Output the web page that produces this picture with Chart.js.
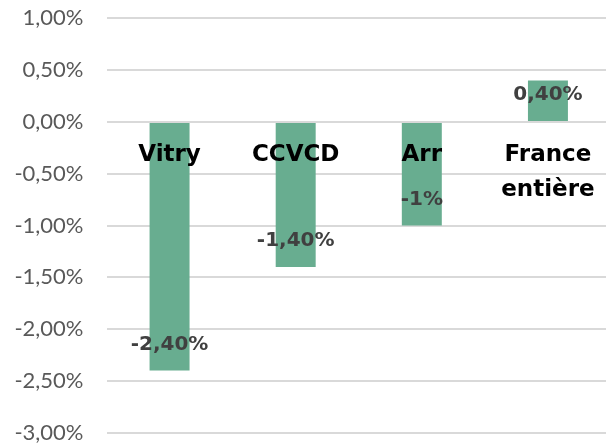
<!DOCTYPE html>
<html>
<head>
<meta charset="utf-8">
<script src="https://cdn.jsdelivr.net/npm/chart.js@4.4.1/dist/chart.umd.min.js"></script>
<style>
  html, body { margin: 0; padding: 0; background: #fff; overflow: hidden; }
  canvas { display: block; }
</style>
</head>
<body>
<canvas id="chart" width="611" height="446"></canvas>
<script>
// data
const categories = ["Vitry", "CCVCD", "Arr", ["France", "entière"]];
const values = [-2.4, -1.4, -1.0, 0.4];
const valueLabels = ["-2,40%", "-1,40%", "-1%", "0,40%"];
const yMin = -3;
const yMax = 1;
const yStep = 0.5;

// value labels drawn just inside the end of each bar
const barLabels = {
  id: "barLabels",
  afterDatasetsDraw(chart) {
    const ctx = chart.ctx;
    const meta = chart.getDatasetMeta(0);
    ctx.save();
    ctx.font = "bold 20px 'DejaVu Sans'";
    ctx.fillStyle = "#404040";
    ctx.textAlign = "center";
    ctx.textBaseline = "middle";
    meta.data.forEach((bar, i) => {
      const y = values[i] < 0 ? bar.y - 26 : bar.y + 14;
      ctx.fillText(valueLabels[i], bar.x, y);
    });
    ctx.restore();
  },
};

new Chart(document.getElementById("chart").getContext("2d"), {
  type: "bar",
  data: {
    labels: categories,
    datasets: [
      {
        data: values,
        backgroundColor: "#68ad90",
        categoryPercentage: 0.317,
        barPercentage: 1,
      },
    ],
  },
  options: {
    responsive: false,
    animation: false,
    devicePixelRatio: 1,
    layout: { padding: { top: 18.3, bottom: 13.3, left: 0, right: 0 } },
    plugins: { legend: { display: false }, tooltip: { enabled: false } },
    scales: {
      x: {
        // category labels sit just under the zero line, over the bars
        position: { y: 0 },
        afterFit: (scale) => { scale.paddingLeft = 0; scale.paddingRight = 0; },
        grid: { display: false, drawTicks: false },
        border: { display: false },
        ticks: {
          z: 1,
          padding: 15,
          color: "#000",
          font: { family: "DejaVu Sans", weight: "bold", size: 23, lineHeight: 1.55 },
          maxRotation: 0,
        },
      },
      y: {
        min: yMin,
        max: yMax,
        afterFit: (scale) => {
          scale.width = 106.5;
          scale.paddingTop = 0;
          scale.paddingBottom = 0;
        },
        grid: { color: "#d9d9d9", lineWidth: 2, drawTicks: false },
        border: { display: false },
        ticks: {
          stepSize: yStep,
          padding: 23,
          color: "#595959",
          font: { family: "Lato", size: 22 },
          callback: (v) => v.toFixed(2).replace(".", ",") + "%",
        },
      },
    },
  },
  plugins: [barLabels],
});
</script>
</body>
</html>
